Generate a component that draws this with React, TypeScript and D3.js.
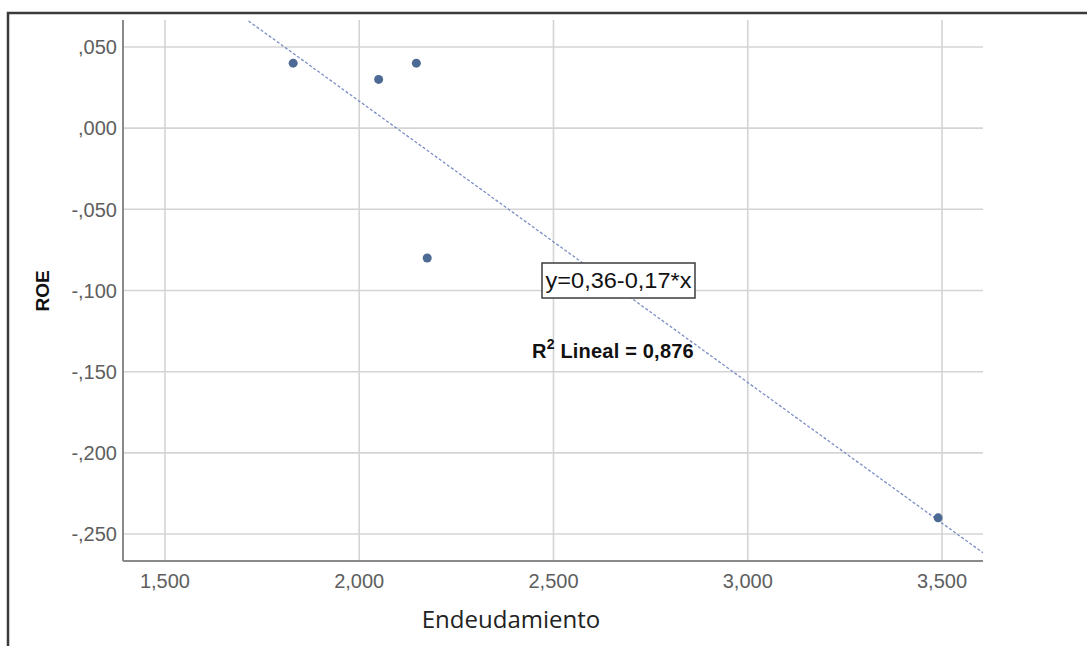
import React from "react";
import * as d3 from "d3";

const xValues = [1.83, 2.05, 2.147, 2.175, 3.49];
const yValues = [0.04, 0.03, 0.04, -0.08, -0.24];
const xTicks = [1.5, 2.0, 2.5, 3.0, 3.5];
const yTicks = [0.05, 0, -0.05, -0.1, -0.15, -0.2, -0.25];
const xDomain = [1.392, 3.6055];
const yDomain = [-0.2666, 0.0666];
const equationLabel = "y=0,36-0,17*x";
const r2Value = "0,876";
const xTitle = "Endeudamiento";
const yTitle = "ROE";

const W = 1087;
const H = 646;
const left = 123;
const right = 983;
const top = 20;
const bottom = 561;

const fmtY = (v: number) => {
  const s = Math.abs(v).toFixed(3).replace(/^0\./, ",");
  return (v < -1e-9 ? "-" : "") + s;
};
const fmtX = (v: number) => v.toFixed(3).replace(".", ",");

export default function App() {
  const x = d3.scaleLinear().domain(xDomain).range([left, right]);
  const y = d3.scaleLinear().domain(yDomain).range([bottom, top]);

  const n = xValues.length;
  const mx = d3.mean(xValues)!;
  const my = d3.mean(yValues)!;
  let sxy = 0;
  let sxx = 0;
  for (let i = 0; i < n; i++) {
    sxy += (xValues[i] - mx) * (yValues[i] - my);
    sxx += (xValues[i] - mx) ** 2;
  }
  const slope = sxy / sxx;
  const intercept = my - slope * mx;
  const lineGen = d3
    .line<number>()
    .x((d) => x(d))
    .y((d) => y(intercept + slope * d));

  const gridColor = "#d4d4d4";
  const axisColor = "#8a8a8a";
  const tickColor = "#5e5e5e";

  return (
    <svg
      width={W}
      height={H}
      style={{ position: "absolute", left: 0, top: 0, background: "#fff" }}
    >
      <defs>
        <clipPath id="plotClip">
          <rect x={left} y={top} width={right - left} height={bottom - top} />
        </clipPath>
      </defs>
      <rect x={0} y={0} width={W} height={H} fill="#fff" />
      <rect
        x={8}
        y={13}
        width={W + 20}
        height={H + 20}
        fill="none"
        stroke="#3a3a3a"
        strokeWidth={2.5}
      />
      {yTicks.map((t) => (
        <line
          key={"gy" + t}
          x1={left}
          x2={right}
          y1={y(t)}
          y2={y(t)}
          stroke={gridColor}
          strokeWidth={1.6}
        />
      ))}
      {xTicks.map((t) => (
        <line
          key={"gx" + t}
          x1={x(t)}
          x2={x(t)}
          y1={top}
          y2={bottom}
          stroke={gridColor}
          strokeWidth={1.6}
        />
      ))}
      <line x1={left} x2={left} y1={top} y2={bottom} stroke={axisColor} strokeWidth={2} />
      <line x1={left} x2={right} y1={bottom} y2={bottom} stroke={axisColor} strokeWidth={2} />
      {yTicks.map((t) => (
        <text
          key={"ty" + t}
          x={117}
          y={y(t)}
          dy="0.36em"
          textAnchor="end"
          fontFamily="'Liberation Sans', Arial, sans-serif"
          fontSize={20}
          fill={tickColor}
        >
          {fmtY(t)}
        </text>
      ))}
      {xTicks.map((t) => (
        <text
          key={"tx" + t}
          x={x(t)}
          y={588}
          textAnchor="middle"
          fontFamily="'Liberation Sans', Arial, sans-serif"
          fontSize={20}
          fill={tickColor}
        >
          {fmtX(t)}
        </text>
      ))}
      <path
        d={lineGen(xDomain) || ""}
        clipPath="url(#plotClip)"
        fill="none"
        stroke="#7c8ec4"
        strokeWidth={1.3}
        strokeDasharray="3,2"
      />
      {xValues.map((xv, i) => (
        <circle key={"p" + i} cx={x(xv)} cy={y(yValues[i])} r={4.5} fill="#4c6a94" />
      ))}
      <rect
        x={542}
        y={263}
        width={153}
        height={35}
        fill="#fff"
        stroke="#3c3c3c"
        strokeWidth={1.5}
      />
      <text
        x={618.5}
        y={288}
        textAnchor="middle"
        fontFamily="'Liberation Sans', Arial, sans-serif"
        fontSize={22}
        fill="#111"
        textLength={146}
        lengthAdjust="spacingAndGlyphs"
      >
        {equationLabel}
      </text>
      <text
        x={532}
        y={358}
        fontFamily="'Liberation Sans', Arial, sans-serif"
        fontSize={20}
        fontWeight="bold"
        fill="#111"
        letterSpacing={0.2}
      >
        R
        <tspan fontSize={14} dy={-9}>
          2
        </tspan>
        <tspan dy={9}>{" Lineal = " + r2Value}</tspan>
      </text>
      <text
        x={511}
        y={628}
        textAnchor="middle"
        fontFamily="'Open Sans', sans-serif"
        fontSize={24}
        fill="#222"
      >
        {xTitle}
      </text>
      <text
        transform="translate(49,291) rotate(-90)"
        textAnchor="middle"
        fontFamily="'Liberation Sans', Arial, sans-serif"
        fontSize={19}
        fontWeight="bold"
        fill="#111"
      >
        {yTitle}
      </text>
    </svg>
  );
}
